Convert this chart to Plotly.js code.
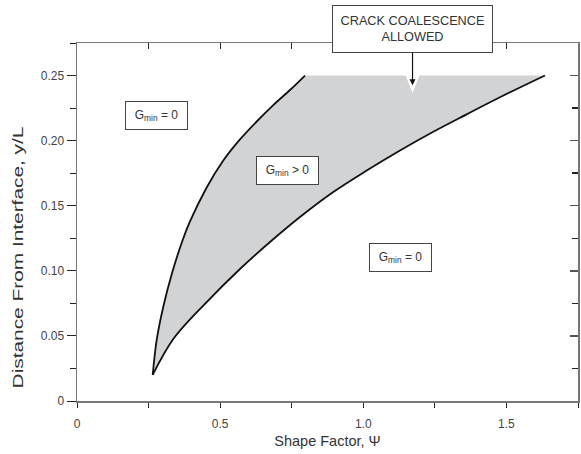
<!DOCTYPE html>
<html>
<head>
<meta charset="utf-8">
<script src="https://cdn.plot.ly/plotly-3.0.1.min.js"></script>
<style>
  html, body { margin: 0; padding: 0; background: #fff; }
  #chart { width: 581px; height: 454px; }
</style>
</head>
<body>
<div id="chart"></div>
<script>
// Boundary of the G_min > 0 region: left (upper) and right (lower) branches
const leftPsi  = [0.2644, 0.2784, 0.3014, 0.3318, 0.3692, 0.3947, 0.4530, 0.5110, 0.5693, 0.6277, 0.6856, 0.7440, 0.7964];
const leftY    = [0.0200, 0.0469, 0.0724, 0.0981, 0.1237, 0.1379, 0.1640, 0.1847, 0.2009, 0.2147, 0.2273, 0.2389, 0.2500];
const rightPsi = [0.2644, 0.3364, 0.4530, 0.5693, 0.6741, 0.7789, 0.8952, 1.0119, 1.1282, 1.2445, 1.3611, 1.4774, 1.6346];
const rightY   = [0.0200, 0.0476, 0.0760, 0.1014, 0.1221, 0.1413, 0.1605, 0.1770, 0.1924, 0.2068, 0.2202, 0.2333, 0.2500];

// Axis ticks
const xTickVals = [0, 0.25, 0.5, 0.75, 1.0, 1.25, 1.5, 1.75];
const xTickText = ['0', '', '0.5', '', '1.0', '', '1.5', ''];
const yTickVals = [0, 0.05, 0.10, 0.15, 0.20, 0.25];
const yTickText = ['0', '0.05', '0.10', '0.15', '0.20', '0.25'];

// Region labels
const subMin = '<sub><span style="color:#333">min</span></sub>';
const regionLabels = ['G' + subMin + ' = 0', 'G' + subMin + ' > 0', 'G' + subMin + ' = 0'];
const regionPsi    = [0.278, 0.737, 1.130];
const regionY      = [0.219, 0.177, 0.110];

// Callout
const calloutText = 'CRACK COALESCENCE<br>ALLOWED';
const calloutPsi  = 1.172;
const calloutY    = 0.2425;
const notchDepth  = 0.0135;
const notchHalf   = 0.025;

const font = 'Liberation Sans, Arial, Helvetica, sans-serif';
const ink = '#333';

// Closed outline of the shaded region
const fillX = leftPsi.concat(rightPsi.slice().reverse());
const fillY = leftY.concat(rightY.slice().reverse());

const curveLine = { color: '#111', width: 1.8, shape: 'spline', smoothing: 1 };

const traces = [
  { x: fillX, y: fillY, type: 'scatter', mode: 'lines', fill: 'toself',
    fillcolor: '#d2d3d5', line: { width: 0, color: 'rgba(0,0,0,0)' },
    hoverinfo: 'skip', showlegend: false },
  { x: leftPsi, y: leftY, type: 'scatter', mode: 'lines', line: curveLine, showlegend: false },
  { x: rightPsi, y: rightY, type: 'scatter', mode: 'lines', line: curveLine, showlegend: false },
  // carries the mirrored top/right tick axes
  { x: [null], y: [null], xaxis: 'x2', yaxis: 'y2', type: 'scatter', mode: 'markers',
    hoverinfo: 'skip', showlegend: false }
];

const annotations = regionLabels.map((t, i) => ({
  x: regionPsi[i], y: regionY[i], xref: 'x', yref: 'y', text: t, showarrow: false,
  font: { family: font, size: 12, color: ink },
  bgcolor: '#fff', bordercolor: '#444', borderwidth: 1, borderpad: 3,
  width: 55, height: 21
}));
annotations.push({
  x: calloutPsi, y: calloutY, xref: 'x', yref: 'y', text: calloutText,
  showarrow: true, arrowhead: 2, arrowsize: 1, arrowwidth: 1.2, arrowcolor: '#111',
  ax: 0, ay: -56, standoff: 0,
  font: { family: font, size: 12.7, color: ink },
  bgcolor: '#fff', bordercolor: '#444', borderwidth: 1, borderpad: 4,
  width: 151, height: 38
});

const layout = {
  width: 581, height: 454,
  margin: { l: 77, r: 3, t: 43, b: 53 },
  paper_bgcolor: '#fff', plot_bgcolor: '#fff',
  font: { family: font, color: ink, size: 12 },
  xaxis: {
    range: [0, 1.75], tickvals: xTickVals, ticktext: xTickText,
    ticks: 'outside', ticklen: 5, tickwidth: 1, tickcolor: '#222',
    ticklabelstandoff: 6,
    showline: true, linecolor: '#777', linewidth: 1.5, mirror: true,
    showgrid: false, zeroline: false,
    tickfont: { family: font, size: 12, color: '#444' },
    title: { text: 'Shape Factor, \u03A8', font: { family: font, size: 14.5, color: ink }, standoff: 6 }
  },
  yaxis: {
    range: [0, 0.275], tickvals: yTickVals, ticktext: yTickText,
    ticks: 'outside', ticklen: 9, tickwidth: 1, tickcolor: '#222',
    minor: { dtick: 0.025, tick0: 0, ticks: 'outside', ticklen: 6, tickcolor: '#222', showgrid: false },
    showline: true, linecolor: '#777', linewidth: 1.5, mirror: true,
    showgrid: false, zeroline: false,
    tickfont: { family: font, size: 12, color: '#444' },
    title: { text: 'Distance From Interface, y/L', font: { family: font, size: 15, color: ink }, standoff: 13 }
  },
  xaxis2: {
    overlaying: 'x', side: 'top', anchor: 'y2', range: [0, 1.75],
    tickvals: xTickVals, ticks: 'inside', ticklen: 6, tickcolor: '#222',
    showticklabels: false, showgrid: false, zeroline: false, showline: false
  },
  yaxis2: {
    overlaying: 'y', side: 'right', anchor: 'x2', range: [0, 0.275],
    tickvals: yTickVals, ticks: 'inside', ticklen: 8, tickcolor: '#555', tickwidth: 1.5,
    minor: { dtick: 0.025, tick0: 0, ticks: 'inside', ticklen: 6, tickcolor: '#222', showgrid: false },
    showticklabels: false, showgrid: false, zeroline: false, showline: false
  },
  shapes: [{
    type: 'path', xref: 'x', yref: 'y', layer: 'above',
    path: 'M ' + (calloutPsi - notchHalf) + ',0.2506 L ' + calloutPsi + ',' + (0.25 - notchDepth) +
          ' L ' + (calloutPsi + notchHalf) + ',0.2506 Z',
    fillcolor: '#fff', line: { width: 0 }
  }],
  annotations: annotations,
  showlegend: false
};

Plotly.newPlot('chart', traces, layout, { displayModeBar: false, staticPlot: true }).then(() => {
  // lengthen the vertical axis title along its reading direction and set its centre
  const t = document.querySelector('.ytitle');
  if (t) {
    const x = +t.getAttribute('x'), y = +t.getAttribute('y');
    const targetY = 257.5;
    t.setAttribute('transform',
      'translate(0,' + (targetY - y) + ') rotate(-90,' + x + ',' + y + ') translate(' + x + ',' + y +
      ') scale(1.39,1) translate(' + (-x) + ',' + (-y) + ')');
  }
});
</script>
</body>
</html>
